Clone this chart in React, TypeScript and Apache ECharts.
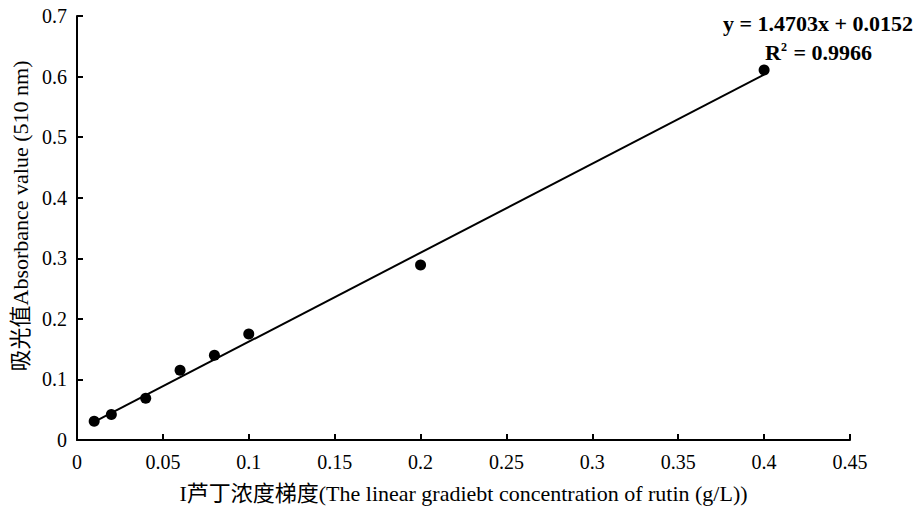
import React, { useEffect, useRef } from "react";
import * as echarts from "echarts";

const concentrations = [0.01, 0.02, 0.04, 0.06, 0.08, 0.1, 0.2, 0.4];
const absorbance = [0.031, 0.042, 0.069, 0.115, 0.14, 0.175, 0.289, 0.611];
const trendX = [0.01, 0.4];
const trendY = [0.0299, 0.6033];
const equationText = "y = 1.4703x + 0.0152";
const r2Value = "0.9966";
const xTitle = "I芦丁浓度梯度(The linear gradiebt concentration of rutin (g/L))";
const yTitle = "吸光值Absorbance value (510 nm)";

const FONT = "'Liberation Serif', 'Noto Sans CJK SC', serif";

export default function App() {
  const ref = useRef<HTMLDivElement>(null);
  useEffect(() => {
    if (!ref.current) return;
    const chart = echarts.init(ref.current, null, { renderer: "svg" });
    const axisCommon = {
      axisLine: { show: true, lineStyle: { color: "#000", width: 2 } },
      axisTick: { show: true, inside: true, length: 6, lineStyle: { color: "#000", width: 2 } },
      splitLine: { show: false },
      nameLocation: "middle" as const,
    };
    chart.setOption({
      animation: false,
      backgroundColor: "#fff",
      grid: { left: 77, top: 16, right: 73, bottom: 72, containLabel: false },
      xAxis: {
        ...axisCommon,
        type: "value",
        min: 0,
        max: 0.45,
        interval: 0.05,
        name: xTitle,
        nameGap: 42,
        nameTextStyle: { color: "#000", fontFamily: FONT, fontSize: 22 },
        axisLabel: { color: "#000", fontFamily: FONT, fontSize: 20, margin: 12 },
      },
      yAxis: {
        ...axisCommon,
        type: "value",
        min: 0,
        max: 0.7,
        interval: 0.1,
        name: yTitle,
        nameGap: 43,
        nameTextStyle: { color: "#000", fontFamily: FONT, fontSize: 22, padding: [0, 0, 0, 24] },
        axisLabel: { color: "#000", fontFamily: FONT, fontSize: 20, margin: 10 },
      },
      series: [
        {
          type: "line",
          data: trendX.map((x, i) => [x, trendY[i]]),
          symbol: "none",
          lineStyle: { color: "#000", width: 2 },
          z: 2,
        },
        {
          type: "scatter",
          data: concentrations.map((x, i) => [x, absorbance[i]]),
          symbol: "circle",
          symbolSize: 11,
          itemStyle: { color: "#000", opacity: 1 },
          z: 3,
        },
      ],
      graphic: [
        {
          type: "text",
          left: 723,
          top: 12,
          style: {
            text: equationText,
            fill: "#000",
            font: `bold 22px ${FONT}`,
          },
        },
        {
          type: "text",
          left: 765,
          top: 41,
          style: {
            text: `{b|R}{s|2}{b| = ${r2Value}}`,
            rich: {
              b: { fontFamily: FONT, fontSize: 22, fontWeight: "bold", color: "#000" },
              s: { fontFamily: FONT, fontSize: 12, fontWeight: "bold", color: "#000", verticalAlign: "top", padding: [0, 1, 10, 0] },
            },
          },
        },
      ],
    });
    return () => chart.dispose();
  }, []);
  return (
    <div
      ref={ref}
      style={{ position: "fixed", left: 0, top: 0, width: 923, height: 512 }}
    />
  );
}
